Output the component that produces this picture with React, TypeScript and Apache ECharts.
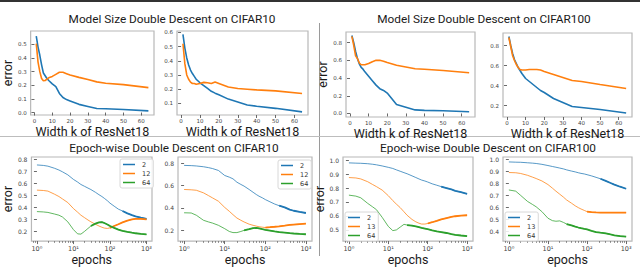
import React, { useEffect, useRef } from 'react';
import * as echarts from 'echarts';

const BLUE = '#1f77b4';
const ORANGE = '#ff7f0e';
const GREEN = '#2ca02c';

// ---- Model size double descent (x = width k) ----
const widthK = [1, 2, 3, 4, 5, 6, 7, 8, 10, 12, 14, 16, 18, 20, 25, 30, 35, 40, 50, 64];
const c10aBlue = [0.56, 0.48, 0.42, 0.35, 0.29, 0.27, 0.25, 0.235, 0.21, 0.19, 0.14, 0.11, 0.095, 0.085, 0.06, 0.045, 0.03, 0.028, 0.022, 0.012];
const c10aOrange = [0.505, 0.37, 0.3, 0.25, 0.233, 0.235, 0.245, 0.255, 0.265, 0.28, 0.295, 0.295, 0.285, 0.275, 0.258, 0.242, 0.225, 0.215, 0.205, 0.183];
const c10bBlue = [0.586, 0.49, 0.42, 0.37, 0.335, 0.31, 0.29, 0.27, 0.245, 0.225, 0.205, 0.185, 0.172, 0.16, 0.13, 0.11, 0.088, 0.08, 0.065, 0.04];
const c10bOrange = [0.52, 0.38, 0.3, 0.27, 0.25, 0.24, 0.24, 0.235, 0.24, 0.248, 0.245, 0.24, 0.25, 0.24, 0.215, 0.205, 0.2, 0.195, 0.188, 0.17];
const c100aBlue = [0.88, 0.8, 0.7, 0.62, 0.56, 0.52, 0.5, 0.47, 0.42, 0.37, 0.32, 0.28, 0.26, 0.23, 0.1, 0.07, 0.04, 0.035, 0.03, 0.02];
const c100aOrange = [0.87, 0.77, 0.65, 0.62, 0.57, 0.55, 0.55, 0.55, 0.565, 0.585, 0.6, 0.6, 0.59, 0.575, 0.545, 0.525, 0.505, 0.5, 0.485, 0.46];
const c100bBlue = [0.89, 0.8, 0.72, 0.66, 0.62, 0.58, 0.55, 0.52, 0.47, 0.44, 0.41, 0.38, 0.35, 0.33, 0.27, 0.23, 0.19, 0.18, 0.16, 0.125];
const c100bOrange = [0.88, 0.79, 0.7, 0.65, 0.61, 0.58, 0.56, 0.555, 0.555, 0.56, 0.56, 0.56, 0.555, 0.54, 0.51, 0.48, 0.45, 0.44, 0.41, 0.37];
const widthTicks = [0, 10, 20, 30, 40, 50, 60];

// ---- Epoch-wise double descent (x = epochs, log) ----
const epochs = [1, 1.5, 2, 3, 4, 5, 7, 10, 13, 16, 20, 25, 30, 40, 50, 60, 70, 85, 100, 130, 170, 220, 300, 400, 500, 700, 1000];
const e10aW2 = [0.752, 0.748, 0.742, 0.725, 0.71, 0.695, 0.67, 0.632, 0.61, 0.59, 0.575, 0.56, 0.548, 0.525, 0.505, 0.49, 0.475, 0.455, 0.435, 0.41, 0.385, 0.37, 0.35, 0.335, 0.325, 0.315, 0.305];
const e10aW12 = [0.543, 0.54, 0.535, 0.51, 0.49, 0.47, 0.44, 0.39, 0.36, 0.335, 0.315, 0.295, 0.28, 0.26, 0.245, 0.235, 0.228, 0.225, 0.23, 0.245, 0.26, 0.275, 0.29, 0.3, 0.305, 0.305, 0.3];
const e10aW64 = [0.365, 0.362, 0.358, 0.345, 0.335, 0.32, 0.28, 0.215, 0.18, 0.178, 0.2, 0.225, 0.245, 0.265, 0.275, 0.278, 0.27, 0.258, 0.245, 0.23, 0.215, 0.205, 0.197, 0.19, 0.185, 0.18, 0.175];
const e10bW2 = [0.78, 0.778, 0.775, 0.768, 0.76, 0.752, 0.735, 0.69, 0.675, 0.66, 0.63, 0.61, 0.595, 0.565, 0.54, 0.52, 0.505, 0.49, 0.475, 0.455, 0.435, 0.42, 0.405, 0.385, 0.375, 0.365, 0.355];
const e10bW12 = [0.565, 0.562, 0.558, 0.535, 0.51, 0.49, 0.46, 0.405, 0.37, 0.34, 0.31, 0.29, 0.275, 0.255, 0.245, 0.238, 0.232, 0.228, 0.225, 0.228, 0.232, 0.236, 0.242, 0.248, 0.252, 0.256, 0.26];
const e10bW64 = [0.357, 0.355, 0.335, 0.29, 0.275, 0.265, 0.245, 0.215, 0.19, 0.18, 0.18, 0.19, 0.2, 0.21, 0.22, 0.222, 0.218, 0.21, 0.205, 0.198, 0.19, 0.185, 0.18, 0.175, 0.172, 0.168, 0.165];
const e100aW2 = [0.98, 0.978, 0.977, 0.974, 0.97, 0.966, 0.958, 0.948, 0.94, 0.93, 0.92, 0.91, 0.902, 0.887, 0.875, 0.865, 0.857, 0.85, 0.843, 0.83, 0.82, 0.81, 0.8, 0.79, 0.78, 0.77, 0.758];
const e100aW13 = [0.875, 0.872, 0.865, 0.845, 0.825, 0.81, 0.785, 0.745, 0.71, 0.685, 0.66, 0.63, 0.605, 0.575, 0.558, 0.548, 0.542, 0.542, 0.546, 0.555, 0.565, 0.575, 0.585, 0.594, 0.598, 0.603, 0.605];
const e100aW64 = [0.749, 0.742, 0.73, 0.69, 0.665, 0.645, 0.59, 0.525, 0.495, 0.5, 0.52, 0.54, 0.535, 0.53, 0.525, 0.52, 0.515, 0.51, 0.505, 0.497, 0.49, 0.485, 0.478, 0.47, 0.465, 0.46, 0.455];
const e100bW2 = [0.978, 0.976, 0.975, 0.971, 0.968, 0.965, 0.958, 0.948, 0.94, 0.934, 0.927, 0.92, 0.912, 0.902, 0.895, 0.888, 0.883, 0.878, 0.872, 0.862, 0.85, 0.838, 0.82, 0.803, 0.79, 0.772, 0.755];
const e100bW13 = [0.89, 0.888, 0.882, 0.867, 0.852, 0.84, 0.82, 0.79, 0.76, 0.735, 0.71, 0.685, 0.662, 0.635, 0.613, 0.598, 0.587, 0.575, 0.565, 0.56, 0.558, 0.557, 0.557, 0.557, 0.557, 0.557, 0.557];
const e100bW64 = [0.745, 0.735, 0.7, 0.65, 0.625, 0.605, 0.565, 0.51, 0.49, 0.485, 0.488, 0.475, 0.462, 0.45, 0.44, 0.433, 0.428, 0.422, 0.418, 0.405, 0.395, 0.39, 0.385, 0.375, 0.368, 0.362, 0.357];
const logDecades = [0, 1, 2, 3];
const legend10 = ['2', '12', '64'];
const legend100 = ['2', '13', '64'];

const titles = [
  { text: 'Model Size Double Descent on CIFAR10', x: 172, y: 13 },
  { text: 'Model Size Double Descent on CIFAR100', x: 484, y: 13 },
  { text: 'Epoch-wise Double Descent on CIFAR10', x: 174, y: 142 },
  { text: 'Epoch-wise Double Descent on CIFAR100', x: 488, y: 142 },
];

const SUP: Record<string, string> = { '0': '\u2070', '1': '\u00b9', '2': '\u00b2', '3': '\u00b3' };

export default function App() {
  const ref = useRef<HTMLDivElement>(null);
  useEffect(() => {
    const chart = echarts.init(ref.current!, null, { renderer: 'svg' });
    const grids: any[] = [];
    const xAxes: any[] = [];
    const yAxes: any[] = [];
    const series: any[] = [];
    const tickColor = '#444';
    const nameStyle = { fontSize: 12.5, color: '#1a1a1a', fontFamily: 'Roboto', fontWeight: 'normal' };

    const topPanels = [
      { box: { left: 25, top: 31, width: 129, height: 84 }, yMin: -0.018, yMax: 0.598, yTicks: [0, 0.1, 0.2, 0.3, 0.4, 0.5], a: c10aBlue, b: c10aOrange, yName: 'error', gap: 11 },
      { box: { left: 177, top: 31, width: 131, height: 84 }, yMin: 0.018, yMax: 0.61, yTicks: [0.1, 0.2, 0.3, 0.4, 0.5, 0.6], a: c10bBlue, b: c10bOrange, yName: '', gap: 0 },
      { box: { left: 346, top: 32, width: 129, height: 85 }, yMin: -0.04, yMax: 0.92, yTicks: [0, 0.2, 0.4, 0.6, 0.8], a: c100aBlue, b: c100aOrange, yName: 'error', gap: 11 },
      { box: { left: 503, top: 33, width: 129, height: 84 }, yMin: 0.085, yMax: 0.925, yTicks: [0.2, 0.4, 0.6, 0.8], a: c100bBlue, b: c100bOrange, yName: '', gap: 0 },
    ];
    const bottomPanels = [
      { box: { left: 20, top: 157, width: 132, height: 87 }, yMin: 0.12, yMax: 0.818, yTicks: [0.2, 0.3, 0.4, 0.5, 0.6, 0.7, 0.8], s: [e10aW2, e10aW12, e10aW64], names: legend10, yName: 'error', gap: 8, legend: { left: 120, top: 159 } },
      { box: { left: 178, top: 157, width: 134, height: 87 }, yMin: 0.104, yMax: 0.855, yTicks: [0.2, 0.4, 0.6, 0.8], s: [e10bW2, e10bW12, e10bW64], names: legend10, yName: '', gap: 0, legend: { left: 278, top: 160 } },
      { box: { left: 343, top: 157, width: 130, height: 87 }, yMin: 0.42, yMax: 1.022, yTicks: [0.5, 0.6, 0.7, 0.8, 0.9, 1.0], s: [e100aW2, e100aW13, e100aW64], names: legend100, yName: 'error', gap: 9, legend: { left: 345, top: 212 } },
      { box: { left: 503, top: 157, width: 129, height: 87 }, yMin: 0.32, yMax: 1.019, yTicks: [0.4, 0.5, 0.6, 0.7, 0.8, 0.9, 1.0], s: [e100bW2, e100bW13, e100bW64], names: legend100, yName: '', gap: 0, legend: { left: 505, top: 212 } },
    ];

    const yAxisFor = (gi: number, p: any, fs: number) => ({
      gridIndex: gi, type: 'value', min: p.yMin, max: p.yMax,
      axisLine: { show: false }, splitLine: { show: false },
      axisTick: { show: true, length: 3, customValues: p.yTicks, lineStyle: { color: tickColor, width: 0.8 } },
      axisLabel: { customValues: p.yTicks, fontSize: fs, color: tickColor, fontFamily: 'DejaVu Sans', margin: 4, formatter: (v: number) => v.toFixed(1) },
      name: p.yName, nameLocation: 'middle', nameGap: p.gap, nameRotate: 90, nameTextStyle: nameStyle,
    });

    topPanels.forEach((p, i) => {
      grids.push({ ...p.box, show: true, borderColor: '#b8b8b8', borderWidth: 1.2, backgroundColor: '#fff' });
      xAxes.push({
        gridIndex: i, type: 'value', min: -2.15, max: 67.15,
        axisLine: { show: false }, splitLine: { show: false },
        axisTick: { show: true, length: 3, customValues: widthTicks, lineStyle: { color: tickColor, width: 0.8 } },
        axisLabel: { customValues: widthTicks, fontSize: 5.5, color: tickColor, fontFamily: 'DejaVu Sans', margin: 3 },
        name: 'Width k of ResNet18', nameLocation: 'middle', nameGap: 5, nameTextStyle: nameStyle,
      });
      yAxes.push(yAxisFor(i, p, 5.5));
      [p.a, p.b].forEach((vals, j) => {
        series.push({
          type: 'line', name: 'width-' + i + '-' + j, xAxisIndex: i, yAxisIndex: i,
          data: widthK.map((k, idx) => [k, vals[idx]]),
          showSymbol: false, symbol: 'none', silent: true,
          lineStyle: { color: j === 0 ? BLUE : ORANGE, width: 1.6 },
          itemStyle: { color: j === 0 ? BLUE : ORANGE },
        });
      });
    });

    const minorTicks: number[] = [];
    for (let d = -1; d <= 3; d++) {
      for (let m = 2; m <= 9; m++) {
        const v = Math.log10(m * Math.pow(10, d));
        if (v > -0.15 && v < 3.15) minorTicks.push(v);
      }
    }
    const legends: any[] = [];
    const colors = [BLUE, ORANGE, GREEN];
    const thickFrom = [200, 100, 30];

    bottomPanels.forEach((p, bi) => {
      const gi = bi + 4;
      grids.push({ ...p.box, show: true, borderColor: '#b8b8b8', borderWidth: 1.2, backgroundColor: '#fff' });
      xAxes.push({
        gridIndex: gi, type: 'value', min: -0.15, max: 3.15, position: 'bottom',
        axisLine: { show: false }, splitLine: { show: false },
        axisTick: { show: true, length: 3, customValues: logDecades, lineStyle: { color: tickColor, width: 0.8 } },
        axisLabel: { customValues: logDecades, fontSize: 6.5, color: tickColor, fontFamily: 'DejaVu Sans', margin: 4, formatter: (v: number) => '10' + SUP[String(Math.round(v))] },
        name: 'epochs', nameLocation: 'middle', nameGap: 9, nameTextStyle: nameStyle,
      });
      const minorIndex = xAxes.length;
      xAxes.push({
        gridIndex: gi, type: 'value', min: -0.15, max: 3.15, position: 'bottom',
        axisLine: { show: false }, splitLine: { show: false },
        axisTick: { show: true, length: 1.8, customValues: minorTicks, lineStyle: { color: tickColor, width: 0.6 } },
        axisLabel: { show: false },
      });
      const mainX = minorIndex - 1;
      yAxes.push(yAxisFor(gi, p, 6));
      p.s.forEach((vals, j) => {
        series.push({
          type: 'line', name: p.names[j], xAxisIndex: mainX, yAxisIndex: gi,
          data: epochs.map((e, idx) => [Math.log10(e), vals[idx]]),
          showSymbol: false, symbol: 'none', silent: true,
          lineStyle: { color: colors[j], width: 1, opacity: 0.75 },
          itemStyle: { color: colors[j] },
        });
      });
      p.s.forEach((vals, j) => {
        series.push({
          type: 'line', name: p.names[j], xAxisIndex: mainX, yAxisIndex: gi,
          data: epochs.map((e, idx) => [Math.log10(e), vals[idx]]).filter((d, idx) => epochs[idx] >= thickFrom[j]),
          showSymbol: false, symbol: 'none', silent: true,
          lineStyle: { color: colors[j], width: 1.8 },
          itemStyle: { color: colors[j] },
        });
      });
      legends.push({
        data: p.names, left: p.legend.left, top: p.legend.top, orient: 'vertical',
        icon: 'rect', itemWidth: 12, itemHeight: 1.5, itemGap: 2,
        padding: [2, 3, 2, 3], borderColor: '#d8d8d8', borderWidth: 1, borderRadius: 2,
        backgroundColor: 'rgba(255,255,255,0.85)',
        textStyle: { fontSize: 6.5, color: '#333', fontFamily: 'DejaVu Sans', padding: [0, 0, 0, 2] },
        selectedMode: false,
      });
    });

    chart.setOption({
      animation: false,
      backgroundColor: '#fff',
      title: titles.map((t) => ({
        text: t.text, left: t.x, top: t.y, textAlign: 'center', padding: 0,
        textStyle: { fontSize: 11.8, fontWeight: 'normal', color: '#1a1a1a', fontFamily: 'Roboto' },
      })),
      grid: grids,
      xAxis: xAxes,
      yAxis: yAxes,
      legend: legends,
      series,
      graphic: [
        { type: 'rect', shape: { x: 0, y: 0, width: 640, height: 2 }, style: { fill: '#333' }, silent: true },
        { type: 'line', shape: { x1: 319.5, y1: 23, x2: 319.5, y2: 256 }, style: { stroke: '#9a9a9a', lineWidth: 1 }, silent: true },
        { type: 'line', shape: { x1: 0, y1: 136.5, x2: 640, y2: 136.5 }, style: { stroke: '#bdbdbd', lineWidth: 1 }, silent: true },
      ],
    });
    return () => chart.dispose();
  }, []);
  return <div ref={ref} style={{ position: 'fixed', left: 0, top: 0, width: 640, height: 267 }} />;
}
